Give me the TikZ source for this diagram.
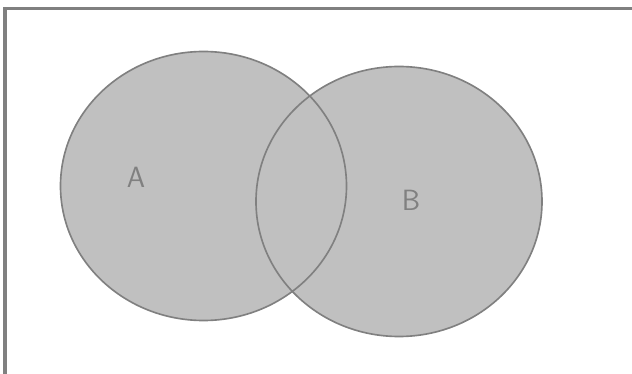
\documentclass[tikz,border=0pt]{standalone}
\usepackage{xcolor}
\usepackage{tikz}
\definecolor{vnfill}{HTML}{C0C0C0}
\definecolor{vnline}{HTML}{808080}

\begin{document}
\begin{tikzpicture}[x=0.03cm, y=-0.03cm,
    setfill/.style={fill=vnfill},
    setedge/.style={draw=vnline, line width=1.4pt},
    framerule/.style={draw=vnline, line width=2.6pt},
    setlabel/.style={text=vnline, font=\fontsize{25}{25}\selectfont\sffamily, inner sep=0pt}]
  \useasboundingbox (0,0) rectangle (632,374);
  \coordinate (cA) at (203.5,186);
  \coordinate (cB) at (399,201.5);
  % frame on the left and top
  \draw[framerule] (5,374) -- (5,8.5) -- (632,8.5);
  % the two sets
  \fill[setfill] (cA) ellipse [x radius=143, y radius=134.5];
  \fill[setfill] (cB) ellipse [x radius=143, y radius=135];
  \draw[setedge] (cA) ellipse [x radius=143, y radius=134.5];
  \draw[setedge] (cB) ellipse [x radius=143, y radius=135];
  \node[setlabel] (labA) at (136,177) {A};
  \node[setlabel] (labB) at (411,200.5) {B};
\end{tikzpicture}
\end{document}
